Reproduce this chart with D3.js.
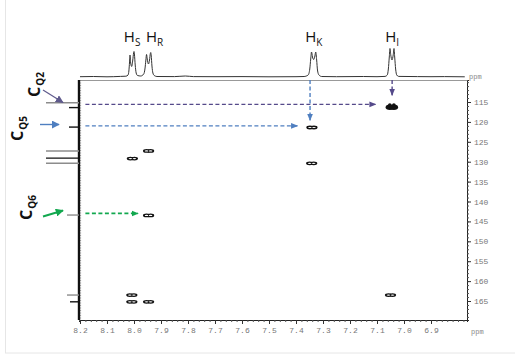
<!DOCTYPE html>
<html>
<head>
<meta charset="utf-8">
<script src="https://cdn.jsdelivr.net/npm/d3@7"></script>
<style>
  body { margin: 0; background: #fff; }
  svg { display: block; }
</style>
</head>
<body>
<div id="chart"></div>
<script>
// 1H projection (top trace): ppm / intensity
const specPpm = [8.20, 8.15, 8.10, 8.05, 8.03, 8.022, 8.019, 8.0165, 8.0148, 8.0128, 8.0085, 8.0045, 8.0015, 8.0, 7.9985, 7.9955, 7.992, 7.987, 7.975,
  7.964, 7.9595, 7.956, 7.9535, 7.951, 7.9465, 7.9425, 7.9395, 7.938, 7.9365, 7.9335, 7.930, 7.925, 7.915, 7.85, 7.81, 7.78, 7.70, 7.60, 7.50,
  7.40, 7.37, 7.355, 7.349, 7.3455, 7.3425, 7.339, 7.3345, 7.330, 7.327, 7.3235, 7.3205, 7.315, 7.305, 7.25, 7.15, 7.10,
  7.07, 7.062, 7.058, 7.0545, 7.052, 7.049, 7.0445, 7.040, 7.037, 7.0345, 7.031, 7.027, 7.02, 6.95, 6.90, 6.85, 6.775]
const specInt = [0.3, 0.5, 0.2, 0.6, 0.8, 2, 6, 15, 22, 15, 10.5, 17, 24, 25.5, 23, 12, 4, 1.5, 1,
  3, 8, 17, 22.5, 18, 13, 17, 23.5, 24.5, 22, 11, 4, 1.5, 0.5, 0.4, 1, 0.4, 0.3, 0.4, 0.2,
  0.3, 0.5, 2, 8, 18, 25, 20, 17.5, 21, 25, 17, 7, 2, 0.5, 0.3, 0.5, 0.3,
  0.6, 2, 8, 20, 28.5, 22, 17, 22, 28.5, 20, 8, 2, 0.6, 0.4, 0.3, 0.4, 0.2]

// 13C projection (left sticks)
const carbonPpm = [115.2, 116.4, 121.3, 127.3, 129.1, 130.4, 143.4, 163.5, 165.2]
const carbonInt = [33, 10, 10, 33, 33, 33, 12, 12, 9]

// proton labels
const hLabels = ['S', 'R', 'K', 'I']
const hLabelPpm = [8.007, 7.946, 7.334, 7.044]

// cross peaks
const crossH = [7.045, 7.341, 7.342, 7.946, 8.006, 7.946, 8.008, 8.008, 7.946, 7.050]
const crossC = [116.3, 121.4, 130.4, 127.3, 129.2, 143.5, 163.5, 165.2, 165.2, 163.5]
const crossLevel = [3, 2, 2, 2, 2, 2, 2, 2, 2, 2]

// dashed correlation arrows
const arrowName = ['q2h', 'iv', 'kv', 'q5h', 'q6h']
const arrowFromH = [8.18, 7.044, 7.348, 8.18, 8.18]
const arrowToH = [7.105, 7.044, 7.348, 7.395, 7.985]
const arrowFromC = [115.6, 109.5, 109.5, 121.0, 143.0]
const arrowToC = [115.6, 113.3, 119.6, 121.0, 143.0]

// carbon labels
const cLabels = ['Q2', 'Q5', 'Q6']
const cLabelPpm = [115.2, 121.0, 143.4]

const xTicks = [8.2, 8.1, 8.0, 7.9, 7.8, 7.7, 7.6, 7.5, 7.4, 7.3, 7.2, 7.1, 7.0, 6.9]
const yTicks = [115, 120, 125, 130, 135, 140, 145, 150, 155, 160, 165]

const W = 515, H = 359
const svg = d3.select('#chart').append('svg')
    .attr('width', W)
    .attr('height', H)
    .style('font-family', '"Open Sans", sans-serif')

svg.append('rect').attr('width', W).attr('height', H).attr('fill', '#fff')
svg.append('rect')
    .attr('x', 5.5).attr('y', -2).attr('width', 510).attr('height', 355)
    .attr('fill', 'none').attr('stroke', '#e6e6e6')

const x = d3.scaleLinear().domain([8.2037, 6.7667]).range([79, 467])
const y = d3.scaleLinear().domain([109.47, 169.77]).range([80, 320])
const yi = d3.scaleLinear().domain([0, 30]).range([77, 47])
const xc = d3.scaleLinear().domain([0, 35]).range([79, 44])

const colors = { q2h: '#554a8a', iv: '#554a8a', kv: '#4f7fc0', q5h: '#4f7fc0', q6h: '#12a84f' }

const defs = svg.append('defs')
for (let [k, c] of Object.entries(colors)) {
  defs.append('marker')
      .attr('id', 'arr-' + k)
      .attr('viewBox', '0 0 10 10')
      .attr('refX', 9).attr('refY', 5)
      .attr('markerUnits', 'userSpaceOnUse')
      .attr('markerWidth', 7).attr('markerHeight', 7)
      .attr('orient', 'auto')
    .append('path')
      .attr('d', 'M0,1 L10,5 L0,9 Z')
      .attr('fill', c)
}
defs.append('marker')
    .attr('id', 'arr-solid')
    .attr('viewBox', '0 0 10 10')
    .attr('refX', 9).attr('refY', 5)
    .attr('markerUnits', 'userSpaceOnUse')
    .attr('markerWidth', 8).attr('markerHeight', 8)
    .attr('orient', 'auto')
  .append('path')
    .attr('d', 'M0,0 L10,5 L0,10 Z')
    .attr('fill', 'context-stroke')

// frame: top rule, bottom + right axes
svg.append('line')
    .attr('x1', 79).attr('x2', 467).attr('y1', 80.5).attr('y2', 80.5)
    .attr('stroke', '#999').attr('stroke-width', 1)

const xMinor = d3.range(820, 676, -2).map(d => d / 100)
svg.append('g')
    .attr('transform', 'translate(0,320)')
    .call(d3.axisBottom(x).tickValues(xMinor).tickSize(2).tickFormat(''))
    .call(g => g.select('.domain').attr('stroke', '#222'))
    .call(g => g.selectAll('.tick line').attr('stroke', '#555'))
svg.append('g')
    .attr('transform', 'translate(0,320)')
    .call(d3.axisBottom(x).tickValues(xTicks).tickSize(4).tickPadding(3).tickFormat(d3.format('.1f')))
    .call(g => g.select('.domain').remove())
    .call(g => g.selectAll('.tick line').attr('stroke', '#333'))
    .call(g => g.selectAll('text').attr('fill', '#777').style('font-family', '"Liberation Mono", monospace').style('font-size', '8px'))

svg.append('g')
    .attr('transform', 'translate(467,0)')
    .call(d3.axisRight(y).tickValues(d3.range(110, 170, 1)).tickSize(2).tickFormat(''))
    .call(g => g.select('.domain').attr('stroke', '#222'))
    .call(g => g.selectAll('.tick line').attr('stroke', '#555'))
svg.append('g')
    .attr('transform', 'translate(467,0)')
    .call(d3.axisRight(y).tickValues(yTicks).tickSize(4).tickPadding(3))
    .call(g => g.select('.domain').remove())
    .call(g => g.selectAll('.tick line').attr('stroke', '#333'))
    .call(g => g.selectAll('text').attr('fill', '#777').style('font-family', '"Liberation Mono", monospace').style('font-size', '8px'))

const ppmStyle = t => t.attr('fill', '#888').style('font-family', '"Liberation Mono", monospace').style('font-size', '7px')
svg.append('text').attr('x', 469).attr('y', 79).text('ppm').call(ppmStyle)
svg.append('text').attr('x', 471).attr('y', 334).text('ppm').call(ppmStyle)

// 1H projection trace
svg.append('path')
    .datum(d3.zip(specPpm, specInt))
    .attr('fill', 'none')
    .attr('stroke', '#333')
    .attr('stroke-width', 1)
    .attr('stroke-linejoin', 'round')
    .attr('d', d3.line().x(d => x(d[0])).y(d => yi(d[1])).curve(d3.curveMonotoneX))

// 13C projection: baseline + sticks
svg.append('line')
    .attr('x1', 79).attr('x2', 79).attr('y1', 80).attr('y2', 320)
    .attr('stroke', '#111').attr('stroke-width', 2.4)
svg.append('line')
    .attr('x1', 80.6).attr('x2', 80.6).attr('y1', 80).attr('y2', 320)
    .attr('stroke', '#777').attr('stroke-width', 0.8).attr('stroke-dasharray', '1,1.5')

const greyStick = new Set([0, 3, 5, 6, 7])
svg.append('g').selectAll('line')
  .data(d3.zip(carbonPpm, carbonInt))
  .join('line')
    .attr('x1', d => xc(d[1])).attr('x2', 79)
    .attr('y1', d => y(d[0])).attr('y2', d => y(d[0]))
    .attr('stroke', (d, i) => greyStick.has(i) ? '#8c8c8c' : '#111')
    .attr('stroke-width', 1.4)

// dashed correlation arrows
arrowName.forEach((k, i) => {
  svg.append('line')
      .attr('x1', x(arrowFromH[i])).attr('y1', y(arrowFromC[i]))
      .attr('x2', x(arrowToH[i])).attr('y2', y(arrowToC[i]))
      .attr('stroke', colors[k])
      .attr('stroke-width', k === 'q6h' ? 1.8 : 1.4)
      .attr('stroke-dasharray', '4,2.5')
      .attr('marker-end', 'url(#arr-' + k + ')')
})

// cross peaks (doublet lobes)
const lobes = []
crossH.forEach((h, i) => {
  lobes.push({ h: h + 0.0075, c: crossC[i], lv: crossLevel[i] })
  lobes.push({ h: h - 0.0075, c: crossC[i], lv: crossLevel[i] })
})
const pk = svg.append('g')
pk.selectAll('ellipse.o')
  .data(lobes)
  .join('ellipse')
    .attr('class', 'o')
    .attr('cx', d => x(d.h)).attr('cy', d => y(d.c))
    .attr('rx', d => d.lv >= 3 ? 4.2 : 3.6)
    .attr('ry', d => d.lv >= 3 ? 2.8 : 1.9)
    .attr('fill', '#111')
pk.selectAll('ellipse.i')
  .data(lobes.filter(d => d.lv < 3))
  .join('ellipse')
    .attr('class', 'i')
    .attr('cx', d => x(d.h)).attr('cy', d => y(d.c))
    .attr('rx', 1.8).attr('ry', 0.6)
    .attr('fill', '#fff')
pk.selectAll('circle')
  .data(lobes.filter(d => d.lv >= 3))
  .join('circle')
    .attr('cx', d => x(d.h)).attr('cy', d => y(d.c) - 2.2)
    .attr('r', 1.8)
    .attr('fill', '#111')

// proton labels
hLabels.forEach((s, i) => {
  const nudge = [0, 6, 0, 0][i]
  const t = svg.append('text')
      .attr('x', x(hLabelPpm[i]) + nudge)
      .attr('y', 42)
      .attr('text-anchor', 'middle')
      .attr('fill', '#111')
      .style('font-size', '15px')
  t.append('tspan').text('H')
  t.append('tspan').attr('dy', 4).style('font-size', '10px').text(s)
})

// carbon labels + solid pointer arrows
const cLab = [{ tx: 40, ty: 97 }, { tx: 23, ty: 141 }, { tx: 32, ty: 220 }]
const cArrow = [
  { x1: 43, y1: 90, x2: 63, y2: 102.5, c: '#5f5a8c', w: 1.2 },
  { x1: 40, y1: 124.5, x2: 59, y2: 124.5, c: '#4f7fc0', w: 1.4 },
  { x1: 43, y1: 216.5, x2: 63, y2: 210.5, c: '#12a84f', w: 2 }
]
cLabels.forEach((s, i) => {
  const t = svg.append('text')
      .attr('transform', 'translate(' + cLab[i].tx + ',' + cLab[i].ty + ') rotate(-90)')
      .attr('fill', '#111')
      .style('font-size', '16px')
      .style('font-weight', 'bold')
  t.append('tspan').text('C')
  t.append('tspan').attr('dx', 1).attr('dy', 4).style('font-size', '10px').text(s)

  const a = cArrow[i]
  svg.append('line')
      .attr('x1', a.x1).attr('y1', a.y1)
      .attr('x2', a.x2).attr('y2', a.y2)
      .attr('stroke', a.c)
      .attr('stroke-width', a.w)
      .attr('marker-end', 'url(#arr-solid)')
})
</script>
</body>
</html>
